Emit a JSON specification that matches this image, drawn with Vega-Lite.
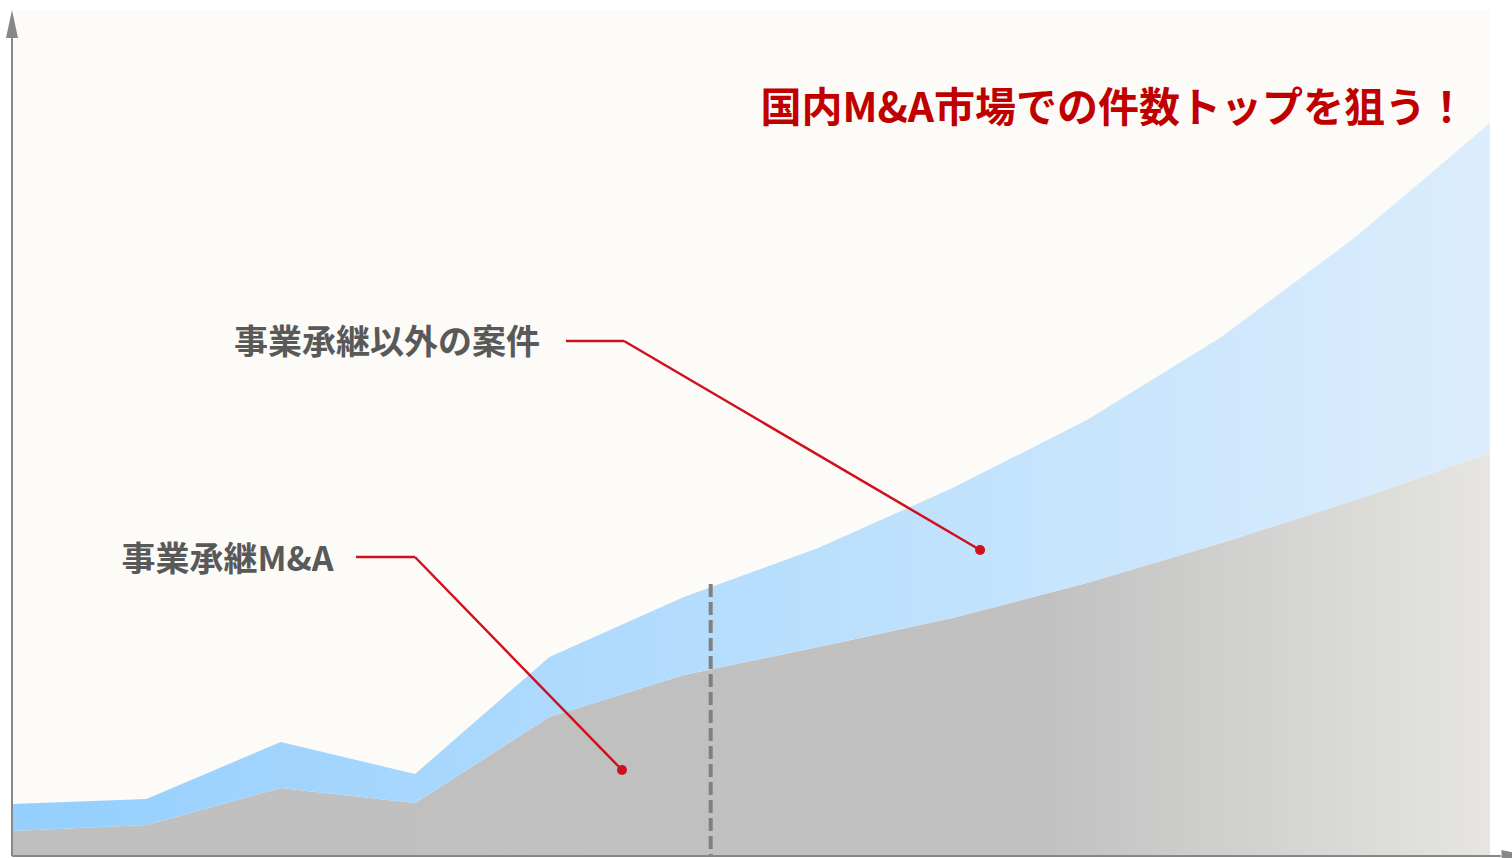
{
  "$schema": "https://vega.github.io/schema/vega-lite/v6.json",
  "width": 1478,
  "height": 846,
  "autosize": "none",
  "padding": {"left": 12, "top": 10, "right": 22, "bottom": 2},
  "background": "#ffffff",
  "config": {"view": {"fill": "#fcfbf7", "stroke": null}, "axis": {"disable": true}},
  "datasets": {
    "areas": [
      {"i": 0, "series": "事業承継M&A", "order": 1, "value": 25},
      {"i": 1, "series": "事業承継M&A", "order": 1, "value": 31},
      {"i": 2, "series": "事業承継M&A", "order": 1, "value": 68},
      {"i": 3, "series": "事業承継M&A", "order": 1, "value": 53},
      {"i": 4, "series": "事業承継M&A", "order": 1, "value": 139},
      {"i": 5, "series": "事業承継M&A", "order": 1, "value": 181},
      {"i": 6, "series": "事業承継M&A", "order": 1, "value": 209},
      {"i": 7, "series": "事業承継M&A", "order": 1, "value": 238},
      {"i": 8, "series": "事業承継M&A", "order": 1, "value": 273},
      {"i": 9, "series": "事業承継M&A", "order": 1, "value": 313},
      {"i": 10, "series": "事業承継M&A", "order": 1, "value": 356},
      {"i": 11, "series": "事業承継M&A", "order": 1, "value": 403},
      {"i": 0, "series": "事業承継以外の案件", "order": 2, "value": 27},
      {"i": 1, "series": "事業承継以外の案件", "order": 2, "value": 26},
      {"i": 2, "series": "事業承継以外の案件", "order": 2, "value": 46},
      {"i": 3, "series": "事業承継以外の案件", "order": 2, "value": 29},
      {"i": 4, "series": "事業承継以外の案件", "order": 2, "value": 60},
      {"i": 5, "series": "事業承継以外の案件", "order": 2, "value": 78},
      {"i": 6, "series": "事業承継以外の案件", "order": 2, "value": 99},
      {"i": 7, "series": "事業承継以外の案件", "order": 2, "value": 130},
      {"i": 8, "series": "事業承継以外の案件", "order": 2, "value": 163},
      {"i": 9, "series": "事業承継以外の案件", "order": 2, "value": 206},
      {"i": 10, "series": "事業承継以外の案件", "order": 2, "value": 263},
      {"i": 11, "series": "事業承継以外の案件", "order": 2, "value": 330}
    ]
  },
  "layer": [
    {
      "data": {"name": "areas"},
      "transform": [
        {"stack": "value", "groupby": ["i"], "sort": [{"field": "order", "order": "ascending"}], "as": ["v0", "v1"]},
        {"filter": "datum.series === '事業承継M&A'"}
      ],
      "mark": {
        "type": "area",
        "color": {
          "gradient": "linear", "x1": 0, "x2": 1, "y1": 0, "y2": 0,
          "stops": [
            {"offset": 0, "color": "#bfbfbf"},
            {"offset": 0.7, "color": "#c1c1c1"},
            {"offset": 1, "color": "#e6e5e1"}
          ]
        }
      },
      "encoding": {
        "x": {"field": "i", "type": "quantitative", "scale": {"domain": [0, 11], "nice": false, "zero": false}, "axis": null},
        "y": {"field": "v1", "type": "quantitative", "scale": {"domain": [0, 846], "nice": false}, "axis": null},
        "y2": {"field": "v0"}
      }
    },
    {
      "data": {"name": "areas"},
      "transform": [
        {"stack": "value", "groupby": ["i"], "sort": [{"field": "order", "order": "ascending"}], "as": ["v0", "v1"]},
        {"filter": "datum.series === '事業承継以外の案件'"}
      ],
      "mark": {
        "type": "area",
        "color": {
          "gradient": "linear", "x1": 0, "x2": 1, "y1": 0, "y2": 0,
          "stops": [
            {"offset": 0, "color": "#94cffd"},
            {"offset": 0.45, "color": "#b3dcfd"},
            {"offset": 1, "color": "#dcedfc"}
          ]
        }
      },
      "encoding": {
        "x": {"field": "i", "type": "quantitative", "axis": null},
        "y": {"field": "v1", "type": "quantitative", "axis": null},
        "y2": {"field": "v0"}
      }
    },
    {
      "data": {"values": [{}]},
      "mark": {"type": "rule", "color": "#808080", "strokeWidth": 4, "strokeDash": [13, 5]},
      "encoding": {"x": {"datum": 5.2}, "y": {"datum": 272}, "y2": {"datum": 0}}
    },
    {
      "data": {"values": [{}]},
      "mark": {"type": "rule", "color": "#888888", "strokeWidth": 2},
      "encoding": {"x": {"datum": 0}, "y": {"datum": 0}, "y2": {"datum": 820}}
    },
    {
      "data": {"values": [{}]},
      "mark": {"type": "rule", "color": "#888888", "strokeWidth": 2},
      "encoding": {"x": {"datum": 0}, "x2": {"datum": 11.08}, "y": {"datum": 0}}
    },
    {
      "data": {"values": [{}]},
      "mark": {"type": "point", "shape": "M -0.43 1 L 0 -1 L 0.43 1 Z", "size": 784, "filled": true, "color": "#888888", "opacity": 1},
      "encoding": {"x": {"datum": 0}, "y": {"datum": 832}}
    },
    {
      "data": {"values": [{}]},
      "mark": {"type": "point", "shape": "M -1 -0.43 L 1 0 L -1 0.43 Z", "size": 784, "filled": true, "color": "#888888", "opacity": 1},
      "encoding": {"x": {"datum": 11.19}, "y": {"datum": 0}}
    },
    {
      "data": {"values": [{}]},
      "mark": {"type": "rule", "color": "#d0101c", "strokeWidth": 2.5},
      "encoding": {"x": {"datum": 4.123}, "x2": {"datum": 4.555}, "y": {"datum": 515}, "y2": {"datum": 515}}
    },
    {
      "data": {"values": [{}]},
      "mark": {"type": "rule", "color": "#d0101c", "strokeWidth": 2.5},
      "encoding": {"x": {"datum": 4.555}, "x2": {"datum": 7.205}, "y": {"datum": 515}, "y2": {"datum": 306}}
    },
    {
      "data": {"values": [{}]},
      "mark": {"type": "rule", "color": "#d0101c", "strokeWidth": 2.5},
      "encoding": {"x": {"datum": 2.560}, "x2": {"datum": 2.999}, "y": {"datum": 299}, "y2": {"datum": 299}}
    },
    {
      "data": {"values": [{}]},
      "mark": {"type": "rule", "color": "#d0101c", "strokeWidth": 2.5},
      "encoding": {"x": {"datum": 2.999}, "x2": {"datum": 4.540}, "y": {"datum": 299}, "y2": {"datum": 86}}
    },
    {
      "data": {"values": [{}]},
      "mark": {"type": "circle", "color": "#d0101c", "size": 100, "opacity": 1},
      "encoding": {"x": {"datum": 7.205}, "y": {"datum": 306}}
    },
    {
      "data": {"values": [{}]},
      "mark": {"type": "circle", "color": "#d0101c", "size": 100, "opacity": 1},
      "encoding": {"x": {"datum": 4.540}, "y": {"datum": 86}}
    },
    {
      "data": {"values": [{}]},
      "mark": {"type": "text", "text": "事業承継以外の案件", "font": "Noto Sans CJK JP", "fontWeight": "bold", "fontSize": 34, "color": "#595959", "align": "center", "baseline": "middle"},
      "encoding": {"x": {"datum": 2.791}, "y": {"datum": 512}}
    },
    {
      "data": {"values": [{}]},
      "mark": {"type": "text", "text": "事業承継M&A", "font": "Noto Sans CJK JP", "fontWeight": "bold", "fontSize": 34, "color": "#595959", "align": "center", "baseline": "middle"},
      "encoding": {"x": {"datum": 1.604}, "y": {"datum": 295}}
    },
    {
      "data": {"values": [{}]},
      "mark": {"type": "text", "text": "国内M&A市場での件数トップを狙う！", "font": "Noto Sans CJK JP", "fontWeight": "bold", "fontSize": 41, "color": "#c00000", "align": "left", "baseline": "middle"},
      "encoding": {"x": {"datum": 5.57}, "y": {"datum": 746}}
    }
  ]
}
